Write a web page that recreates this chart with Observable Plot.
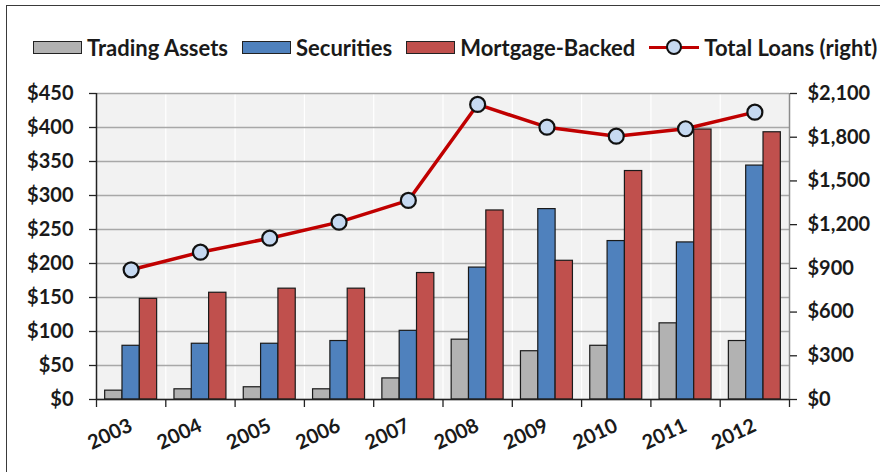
<!DOCTYPE html>
<html>
<head>
<meta charset="utf-8">
<script src="https://cdn.jsdelivr.net/npm/d3@7"></script>
<script src="https://cdn.jsdelivr.net/npm/@observablehq/plot@0.6"></script>
<style>
  html, body { margin: 0; padding: 0; background: #fff; width: 880px; height: 472px; overflow: hidden; }
  #wrap { position: relative; width: 880px; height: 472px; font-family: Lato, "Open Sans", sans-serif; font-weight: bold; color: #1a1a1a; }
  #border { position: absolute; left: 6px; top: 5px; width: 1000px; height: 1000px; border-left: 1.5px solid #3a3a3a; border-top: 1.5px solid #3a3a3a; pointer-events: none; }
  #legend { position: absolute; left: 33px; top: 33px; height: 28px; display: flex; align-items: center; font-size: 22px; white-space: nowrap; }
  .item { display: flex; align-items: center; margin-right: 14px; }
  .sw { width: 47px; height: 11px; border: 1px solid #222; margin-right: 5px; }
  .ln { position: relative; width: 50px; height: 16px; margin-right: 5px; }
  .ln .bar { position: absolute; left: 0; right: 0; top: 6.5px; height: 3.5px; background: #c00000; }
  .ln .dot { position: absolute; left: 17px; top: 0px; width: 12px; height: 12px; border-radius: 50%; background: #c6d9f1; border: 2px solid #111; }
  #chart { position: absolute; left: 0; top: 0; }
</style>
</head>
<body>
<div id="wrap">
  <div id="legend"></div>
  <div id="chart"></div>
  <div id="border"></div>
</div>
<script>
const years = ["2003","2004","2005","2006","2007","2008","2009","2010","2011","2012"];
const tradingAssets = [13, 15, 18, 15, 31, 88, 71, 79, 112, 86];
const securities = [79, 82, 82, 86, 101, 194, 280, 233, 231, 344];
const mortgageBacked = [148, 157, 163, 163, 186, 278, 204, 336, 397, 393];
const totalLoans = [890, 1011, 1107, 1217, 1366, 2025, 1869, 1807, 1858, 1972];
const leftTicks = [0, 50, 100, 150, 200, 250, 300, 350, 400, 450];
const rightTicks = [0, 300, 600, 900, 1200, 1500, 1800, 2100];
const seriesNames = ["Trading Assets", "Securities", "Mortgage-Backed"];
const seriesColors = ["#b2b2b2", "#4f81bd", "#c0504d"];
const lineName = "Total Loans (right)";

const leftMax = 450, rightMax = 2100;
const toLeft = v => v * leftMax / rightMax;

// Legend
const legend = document.getElementById("legend");
seriesNames.forEach((name, k) => {
  const it = document.createElement("div"); it.className = "item";
  const sw = document.createElement("div"); sw.className = "sw"; sw.style.background = seriesColors[k];
  const tx = document.createElement("span"); tx.textContent = name;
  it.append(sw, tx); legend.append(it);
});
{
  const it = document.createElement("div"); it.className = "item";
  const ln = document.createElement("div"); ln.className = "ln";
  ln.innerHTML = '<div class="bar"></div><div class="dot"></div>';
  const tx = document.createElement("span"); tx.textContent = lineName;
  it.append(ln, tx); legend.append(it);
}

// Data tables
const seriesArrays = [tradingAssets, securities, mortgageBacked];
const bars = [];
seriesArrays.forEach((arr, k) => arr.forEach((v, i) => bars.push({i, k, value: v})));
const loans = totalLoans.map((v, i) => ({i, value: v}));

const chart = Plot.plot({
  width: 880,
  height: 472,
  marginTop: 93,
  marginBottom: 73,
  marginLeft: 96,
  marginRight: 91,
  x: {domain: [0, years.length], axis: null},
  y: {domain: [0, leftMax], axis: null},
  style: {fontFamily: "Lato, 'Open Sans', sans-serif", fontWeight: "bold", fontSize: "20px", color: "#1a1a1a", background: "transparent", overflow: "visible"},
  marks: [
    Plot.frame({fill: "#f2f2f2", stroke: "none"}),
    Plot.ruleX(d3.range(years.length + 1), {stroke: "#ffffff", strokeWidth: 1.2}),
    Plot.ruleY(leftTicks, {stroke: "#a8a8a8", strokeWidth: 1.6}),
    Plot.rectY(bars, {
      x1: d => d.i + 0.125 + d.k * 0.25,
      x2: d => d.i + 0.375 + d.k * 0.25,
      y: "value",
      fill: d => seriesColors[d.k],
      stroke: "#1a1a1a",
      strokeWidth: 1.2
    }),
    Plot.ruleX([years.length], {stroke: "#8c8c8c", strokeWidth: 1.5}),
    Plot.ruleX([0], {stroke: "#222", strokeWidth: 1.5}),
    Plot.ruleY([0], {stroke: "#222", strokeWidth: 1.5}),
    Plot.line(loans, {x: d => d.i + 0.5, y: d => toLeft(d.value), stroke: "#c00000", strokeWidth: 3.5}),
    Plot.dot(loans, {x: d => d.i + 0.5, y: d => toLeft(d.value), r: 7.5, fill: "#c6d9f1", stroke: "#111", strokeWidth: 2.2}),
    Plot.axisY({anchor: "left", label: null, ticks: leftTicks, tickFormat: d => "$" + d, tickSize: 7, tickPadding: 16, stroke: "#222", strokeWidth: 1.3}),
    Plot.axisY({anchor: "right", label: null, ticks: rightTicks.map(toLeft), tickFormat: d => "$" + d3.format(",")(Math.round(d * rightMax / leftMax)), tickSize: 7, tickPadding: 11, stroke: "#222", strokeWidth: 1.3}),
    Plot.axisX({label: null, ticks: d3.range(years.length + 1), tickFormat: () => "", tickSize: 8, stroke: "#222", strokeWidth: 1.3}),
    Plot.axisX({label: null, ticks: years.map((y, i) => i + 0.5), tickFormat: t => years[Math.floor(t)], tickSize: 0, tickPadding: 25, tickRotate: -25})
  ]
});
document.getElementById("chart").append(chart);
</script>
</body>
</html>
